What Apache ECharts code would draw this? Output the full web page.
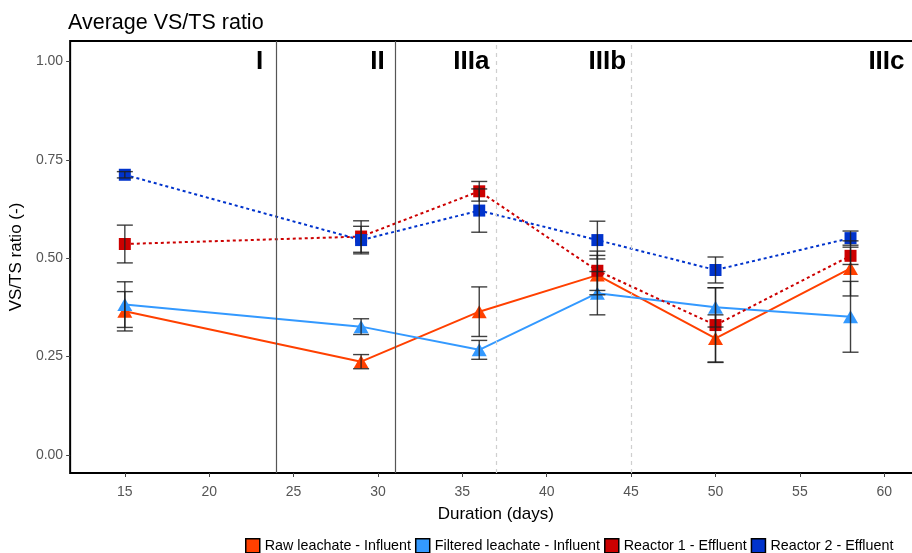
<!DOCTYPE html>
<html>
<head>
<meta charset="utf-8">
<script src="https://cdn.jsdelivr.net/npm/echarts@6/dist/echarts.min.js"></script>
<style>
html,body{margin:0;padding:0;background:#fff;overflow:hidden;width:912px;height:553px;}
#chart{width:922px;height:553px;}
</style>
</head>
<body>
<div id="chart"></div>
<script>
// ---- data ----
const days = [15, 29, 36, 43, 50, 58];
const seriesNames = ['Raw leachate - Influent', 'Filtered leachate - Influent', 'Reactor 1 - Effluent', 'Reactor 2 - Effluent'];
const rawVals  = [0.365, 0.237, 0.364, 0.457, 0.296, 0.474];
const rawErr   = [0.050, 0.018, 0.063, 0.050, 0.060, 0.070];
const filtVals = [0.382, 0.326, 0.267, 0.411, 0.375, 0.351];
const filtErr  = [0.058, 0.020, 0.024, 0.055, 0.050, 0.090];
const r1Vals   = [0.536, 0.555, 0.670, 0.468, 0.330, 0.506];
const r1Err    = [0.048, 0.040, 0.025, 0.050, 0.095, 0.022];
const r2Vals   = [0.712, 0.546, 0.621, 0.546, 0.470, 0.551];
const r2Err    = [0.008, 0.035, 0.055, 0.048, 0.033, 0.018];
const phaseBoundSolid = [24, 31];
const phaseBoundDashed = [37, 45];
const phaseLabels = ['I', 'II', 'IIIa', 'IIIb', 'IIIc'];
const phaseLabelX = [23.2, 30.4, 36.6, 44.7, 61.2];
const phaseLabelY = 1.0;
const xTicks = [15, 20, 25, 30, 35, 40, 45, 50, 55, 60];
const yTicks = [0, 0.25, 0.5, 0.75, 1.0];

const colors = ['#ff4000', '#3399ff', '#cc0000', '#0033cc'];
const symbols = ['triangle', 'triangle', 'rect', 'rect'];
const lineTypes = ['solid', 'solid', [3, 3], [3, 3]];
const allVals = [rawVals, filtVals, r1Vals, r2Vals];
const allErr = [rawErr, filtErr, r1Err, r2Err];

const chart = echarts.init(document.getElementById('chart'), null, {renderer: 'canvas'});

const series = [];
allVals.forEach((vals, i) => {
  series.push({
    name: seriesNames[i],
    type: 'line',
    data: days.map((d, j) => [d, vals[j]]),
    symbol: symbols[i],
    symbolSize: symbols[i] === 'triangle' ? [15, 13] : 12,
    itemStyle: {color: colors[i]},
    lineStyle: {color: colors[i], width: 2, type: lineTypes[i]},
    z: 3
  });
});
allVals.forEach((vals, i) => {
  series.push({
    name: seriesNames[i] + ' err',
    type: 'custom',
    data: days.map((d, j) => [d, vals[j] - allErr[i][j], vals[j] + allErr[i][j]]),
    renderItem: function (params, api) {
      const x = api.value(0);
      const lo = api.coord([x, api.value(1)]);
      const hi = api.coord([x, api.value(2)]);
      const h = 8;
      const st = {stroke: 'rgba(30,30,30,0.85)', lineWidth: 1.4};
      return {type: 'group', children: [
        {type: 'line', shape: {x1: lo[0], y1: lo[1], x2: hi[0], y2: hi[1]}, style: st},
        {type: 'line', shape: {x1: lo[0] - h, y1: lo[1], x2: lo[0] + h, y2: lo[1]}, style: st},
        {type: 'line', shape: {x1: hi[0] - h, y1: hi[1], x2: hi[0] + h, y2: hi[1]}, style: st}
      ]};
    },
    z: 4,
    silent: true
  });
});
// phase boundaries
series.push({
  name: 'phases',
  type: 'line',
  data: [],
  silent: true,
  markLine: {
    symbol: 'none',
    silent: true,
    label: {show: false},
    data: phaseBoundSolid.map(x => ({xAxis: x, lineStyle: {color: '#555', width: 1.2, type: 'solid'}}))
      .concat(phaseBoundDashed.map(x => ({xAxis: x, lineStyle: {color: '#cfcfcf', width: 1.2, type: [4, 4]}})))
  },
  z: 1
});
// phase labels
series.push({
  name: 'phaseLabels',
  type: 'scatter',
  symbolSize: 0,
  silent: true,
  itemStyle: {opacity: 1},
  data: phaseLabelX.map((x, i) => ({value: [x, phaseLabelY], name: phaseLabels[i]})),
  label: {
    show: true, position: 'left', distance: 0,
    formatter: p => p.name,
    fontFamily: 'Liberation Sans, Arial, sans-serif',
    fontWeight: 'bold', fontSize: 26, color: '#000', opacity: 1
  },
  z: 5
});

chart.setOption({
  animation: false,
  backgroundColor: '#fff',
  textStyle: {fontFamily: 'Liberation Sans, Arial, sans-serif'},
  title: {
    text: 'Average VS/TS ratio', left: 68, top: 12, padding: 0,
    textStyle: {fontSize: 21.5, fontWeight: 'normal', color: '#000', fontFamily: 'Liberation Sans, Arial, sans-serif'}
  },
  legend: {
    data: seriesNames.map((n, i) => ({name: n, icon: 'rect', itemStyle: {color: colors[i], borderColor: '#000', borderWidth: 1.5}})),
    left: 240, top: 533,
    itemWidth: 14, itemHeight: 14, itemGap: 4,
    textStyle: {fontSize: 14.3, color: '#000'},
    selectedMode: false
  },
  grid: {
    left: 69, top: 41, right: 0.6, bottom: 80,
    show: true, borderColor: '#000', borderWidth: 2, backgroundColor: 'transparent'
  },
  xAxis: {
    type: 'value', min: 11.76, max: 62.2,
    name: 'Duration (days)', nameLocation: 'middle', nameGap: 33,
    nameTextStyle: {fontSize: 17, color: '#000'},
    axisLine: {show: false, onZero: false},
    axisTick: {show: true, inside: false, length: 4, lineStyle: {color: '#444'}, customValues: xTicks},
    axisLabel: {fontSize: 14, color: '#555', margin: 12, customValues: xTicks},
    splitLine: {show: false}
  },
  yAxis: {
    type: 'value', min: -0.046, max: 1.052,
    name: 'VS/TS ratio (-)', nameLocation: 'middle', nameGap: 37, nameRotate: 90,
    nameTextStyle: {fontSize: 17, color: '#000'},
    axisLine: {show: false, onZero: false},
    axisTick: {show: true, inside: false, length: 4, lineStyle: {color: '#444'}, customValues: yTicks},
    axisLabel: {fontSize: 14, color: '#555', margin: 7, customValues: yTicks, formatter: v => v.toFixed(2)},
    splitLine: {show: false}
  },
  series: series
});
</script>
</body>
</html>
